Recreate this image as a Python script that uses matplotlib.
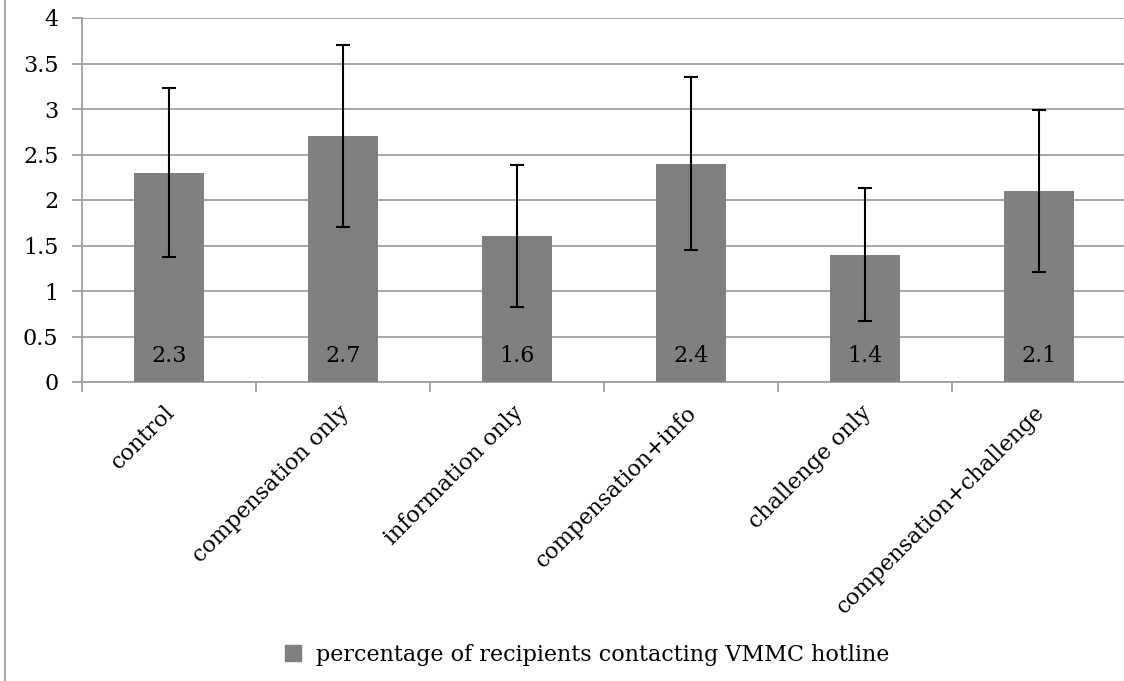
import numpy as np
import matplotlib
matplotlib.use('Agg')
import matplotlib.pyplot as plt
from matplotlib.lines import Line2D

# 数据
categories = ['control', 'compensation only', 'information only',
              'compensation+info', 'challenge only', 'compensation+challenge']
values = [2.3, 2.7, 1.6, 2.4, 1.4, 2.1]
errors = [0.93, 1.0, 0.78, 0.95, 0.73, 0.89]
series_name = 'percentage of recipients contacting VMMC hotline'

plt.rcParams['font.family'] = ['DejaVu Serif']
fs = 16

fig = plt.figure(figsize=(11.24, 6.81), dpi=100)
ax = fig.add_axes([82 / 1124, 1 - 382 / 681, 1044 / 1124, 364 / 681])

x = np.arange(len(categories))
bars = ax.bar(x, values, width=0.4, color='#808080', zorder=3)
ax.errorbar(x, values, yerr=errors, fmt='none', ecolor='black',
            elinewidth=1.5, capsize=5, capthick=1.5, zorder=4)

# 柱内数值标签
for xi, v in zip(x, values):
    ax.text(xi, 0.29, f'{v}', ha='center', va='center', fontsize=fs, zorder=5)

ax.set_xlim(-0.5, 5.5)
ax.set_ylim(0, 4)
ax.set_yticks(np.arange(0, 4.01, 0.5))
ax.set_yticklabels(['0', '0.5', '1', '1.5', '2', '2.5', '3', '3.5', '4'], fontsize=fs)
ax.yaxis.grid(True, color='#a0a0a0', linewidth=1.3, zorder=0)
ax.set_axisbelow(True)

# x轴刻度在类别之间
ax.set_xticks(np.arange(-0.5, 5.6, 1.0))
ax.set_xticklabels([])
ax.set_xticks(x - 0.03, minor=True)
ax.set_xticklabels(categories, minor=True, rotation=45, ha='right', va='top',
                   rotation_mode='anchor', fontsize=fs)
ax.tick_params(axis='x', which='minor', length=0, pad=14)
ax.tick_params(axis='x', which='major', length=7, color='#a0a0a0', width=1.3)
ax.tick_params(axis='y', length=7, color='#a0a0a0', width=1.3, pad=10)

for s in ['top', 'right']:
    ax.spines[s].set_visible(False)
for s in ['left', 'bottom']:
    ax.spines[s].set_color('#a0a0a0')
    ax.spines[s].set_linewidth(1.3)

# 图例
handle = Line2D([], [], marker='s', linestyle='none', color='#808080', markersize=12)
fig.legend([handle], [series_name], loc='center', bbox_to_anchor=(580 / 1124, 1 - 655 / 681),
           frameon=False, fontsize=fs, handletextpad=0.0, borderaxespad=0)

# 左侧边框线
fig.add_artist(Line2D([5 / 1124, 5 / 1124], [0, 1], color='#a0a0a0', linewidth=1.3))

plt.savefig('out.png', dpi=100)
